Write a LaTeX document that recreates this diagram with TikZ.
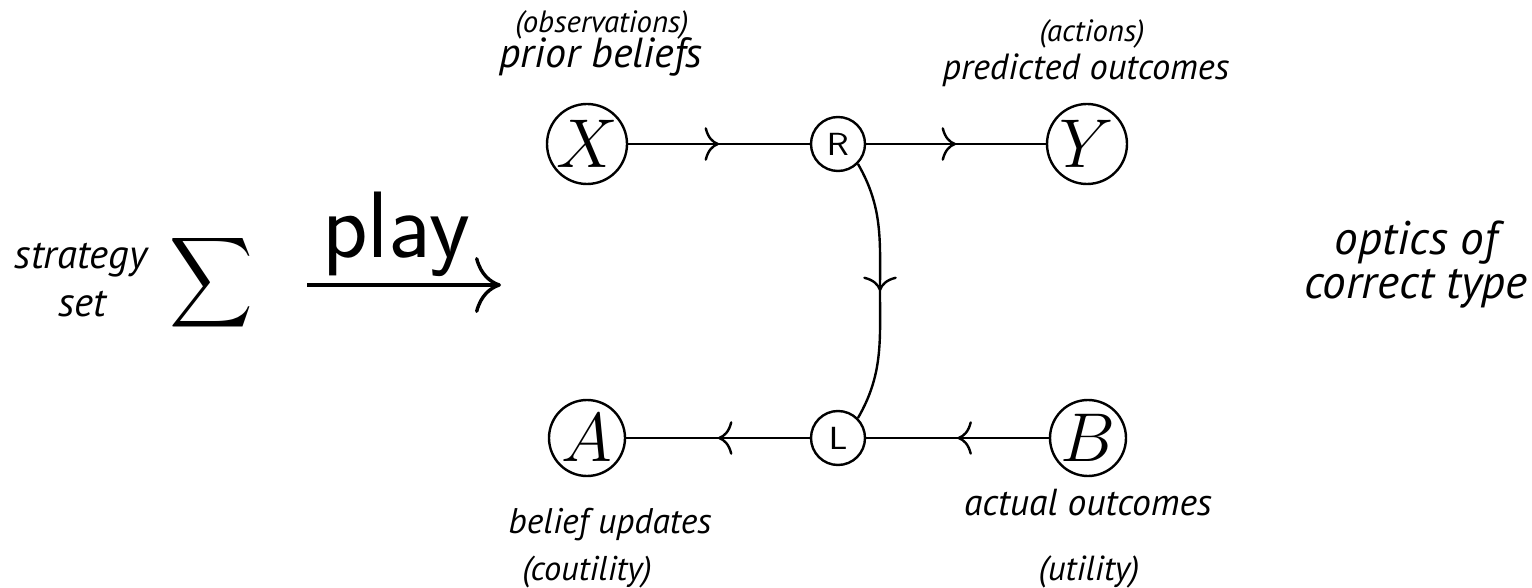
\documentclass[tikz,border=0pt]{standalone}
\usepackage{fontspec}
\usepackage{graphicx}
\newfontfamily\labfont{PT Sans}
\usetikzlibrary{arrows.meta,decorations.markings}
\tikzset{cmtip/.tip={Computer Modern Rightarrow[length=3.6pt,width=8.4pt]}}
\newcommand{\labsize}[1]{\labfont\itshape\fontsize{#1}{#1}\selectfont}
\begin{document}
\begin{tikzpicture}[x=0.25pt,y=-0.25pt,
  lab/.style={inner sep=0pt, anchor=base},
  bigc/.style={draw, circle, line width=0.6pt, minimum size=20pt, inner sep=0pt, font=\fontsize{16}{19}\selectfont},
  smc/.style={draw, circle, line width=0.6pt, minimum size=13.5pt, inner sep=0pt, font=\sffamily\fontsize{8}{9}\selectfont},
  wire/.style={line width=0.6pt},
  midarrow/.style={wire, postaction={decorate}, decoration={markings, mark=at position 0.5 with {\arrow{cmtip}}}}
]
\useasboundingbox (0,0) rectangle (1532,588);

% main nodes
\node[bigc] (X) at (587,144) {$X$};
\node[bigc] (Y) at (1087,144) {$Y$};
\node[bigc, minimum size=19pt] (A) at (587,438) {$A$};
\node[bigc, minimum size=19pt] (B) at (1088,438) {$B$};
\node[smc] (R) at (838,144) {R};
\node[smc] (L) at (838,438) {L};

% connectors
\draw[midarrow] (X) -- (R);
\draw[midarrow] (R) -- (Y);
\draw[midarrow] (L) -- (A);
\draw[midarrow] (B) -- (L);
\draw[midarrow] (R.-45) to[out=-60,in=90] (880,291) to[out=-90,in=60] (L.45);

% labels
\node[lab, font=\labsize{7.7}] (obs) at (602,33) {(observations)};
\node[lab, font=\labsize{10.5}] (prior) at (601,68) {prior beliefs};
\node[lab, font=\labsize{7.7}] (act) at (1092,42) {(actions)};
\node[lab, font=\labsize{9.1}] (pred) at (1086,80) {predicted outcomes};
\node[lab, font=\labsize{8.9}] (bu) at (610,533) {belief updates};
\node[lab, font=\labsize{8.6}] (cou) at (587,580) {(coutility)};
\node[lab, font=\labsize{9.4}] (ao) at (1088,515) {actual outcomes};
\node[lab, font=\labsize{8.7}] (ut) at (1089,580) {(utility)};

% left part
\node[lab, font=\labsize{10.2}] (strat) at (81,268) {strategy};
\node[lab, font=\labsize{10.2}] (set) at (82,317) {set};
\node[inner sep=0pt] (sig) at (211,283) {\scalebox{1.45}[1.58]{$\displaystyle\sum$}};
\coordinate (ps) at (307,285);
\coordinate (pe) at (501,285);
\draw[line width=0.85pt, -{Computer Modern Rightarrow[length=6.5pt,width=14pt]}] (ps) -- (pe);
\node[lab, font=\sffamily\fontsize{23.6}{28}\selectfont] (play) at (396,258) {play};

% right part
\node[lab, font=\labsize{11.8}] (opt) at (1416,254) {optics of};
\node[lab, font=\labsize{11.8}] (ct) at (1416,298) {correct type};
\end{tikzpicture}
\end{document}
